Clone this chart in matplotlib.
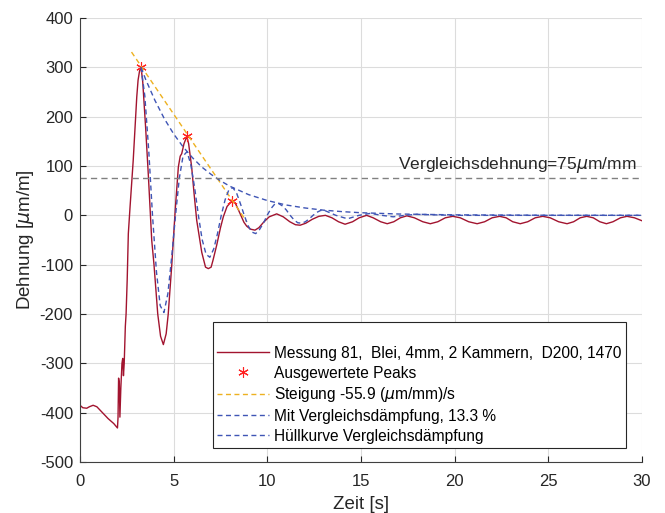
import numpy as np
import matplotlib
matplotlib.use('Agg')
import matplotlib.pyplot as plt

plt.rcParams['font.family'] = ['Liberation Sans', 'DejaVu Sans']
plt.rcParams['axes.unicode_minus'] = False

# Messung (Zeit in s, Dehnung in um/m)
t_mess = [0.0, 0.15, 0.36, 0.5, 0.7, 0.9, 1.2, 1.5, 1.8, 2.0, 2.03, 2.06, 2.1, 2.13,
          2.18, 2.24, 2.28, 2.32, 2.36, 2.42, 2.46, 2.52, 2.58, 2.67, 2.84, 3.03, 3.1,
          3.18, 3.26, 3.35, 3.5, 3.65, 3.83, 3.95, 4.15, 4.3, 4.45, 4.6, 4.71, 4.9,
          4.98, 5.1, 5.25, 5.35, 5.43, 5.55, 5.7, 5.8, 5.96, 6.1, 6.23, 6.5, 6.7,
          6.85, 7.0, 7.1, 7.3, 7.5, 7.65, 7.85, 8.13, 8.3, 8.54, 8.75, 8.9, 9.1,
          9.34, 9.55, 9.8, 10.1, 10.5, 10.85, 11.2, 11.5, 11.75, 12.05, 12.4, 12.75,
          13.1, 13.45, 13.8, 14.15, 14.55, 14.9, 15.3, 15.65, 16.05, 16.4, 16.75,
          17.1, 17.45, 17.85, 18.3, 18.7, 19.1, 19.5, 19.9, 20.3, 20.75, 21.2, 21.6,
          22.0, 22.4, 22.75, 23.1, 23.5, 23.9, 24.3, 24.7, 25.1, 25.55, 26.0, 26.35,
          26.7, 27.05, 27.4, 27.75, 28.1, 28.45, 28.85, 29.2, 29.6, 30.0]
y_mess = [-385, -390, -391, -388, -385, -388, -400, -412, -422, -431, -410, -330, -340, -409,
          -350, -300, -290, -325, -300, -225, -200, -130, -37, 16, 111, 240, 274,
          293, 300, 270, 180, 80, -51, -100, -200, -245, -262, -240, -200, -100,
          -51, 20, 98, 120, 125, 145, 160, 145, 98, 40, -10, -75, -105,
          -108, -105, -91, -60, -25, -3, 18, 30, 24, 4, -14, -22, -28,
          -30, -25, -14, -3, 3, -3, -13, -19, -20, -16, -8, -2,
          0, -5, -13, -18, -13, -5, 0, -5, -13, -17, -13,
          -5, -1, -5, -13, -17, -13, -5, -2, -5, -13, -17, -13,
          -5, -2, -5, -13, -17, -13, -5, -2, -5, -13, -17, -13,
          -5, -2, -5, -13, -17, -13, -5, -2, -5, -11]

# ausgewertete Peaks
t_peaks = [3.26, 5.70, 8.13]
y_peaks = [300, 160, 30]

# Steigung
t_steig = [2.75, 8.90]
y_steig = [331, -13]

# Mit Vergleichsdaempfung
t_daempf = [3.26, 3.46, 3.67, 3.87, 4.08, 4.28, 4.48, 4.69, 4.89, 5.10, 5.30, 5.50,
            5.71, 5.91, 6.12, 6.32, 6.52, 6.73, 6.93, 7.14, 7.34, 7.54, 7.75, 7.95,
            8.16, 8.36, 8.56, 8.77, 8.97, 9.18, 9.38, 9.58, 9.79, 9.99, 10.20, 10.40,
            10.60, 10.81, 11.01, 11.22, 11.42, 11.62, 11.83, 12.03, 12.24, 12.44, 12.64,
            12.85, 13.05, 13.66, 14.28, 14.89, 15.50, 16.11, 16.72, 17.34, 17.95, 20.0, 30.0]
y_daempf = [300, 242, 131, 0, -114, -183, -197, -159, -86, 0, 75, 120,
            129, 104, 56, 0, -49, -79, -85, -68, -37, 0, 32, 52,
            56, 45, 24, 0, -21, -34, -37, -29, -16, 0, 14, 23,
            24, 19, 11, 0, -9, -15, -16, -13, -7, 0, 6,
            10, 10, 0, -7, 0, 4, 0, -3, 0, 2, 0, 0]

# Huellkurve
t_huell = [3.26, 3.5, 4.0, 4.5, 5.0, 5.5, 6.0, 6.5, 7.0, 7.5, 8.0, 9.0, 10.0, 11.0,
           12.0, 13.0, 14.0, 15.0, 17.0, 20.0, 25.0, 30.0]
y_huell = [300, 276, 233, 196, 165, 139, 117, 98, 83, 70, 59, 42, 30, 21,
           15, 10.5, 7.5, 5.3, 2.7, 1, 0.2, 0]

vergleich = 75

fig = plt.figure(figsize=(6.65, 5.13), dpi=100)
ax = fig.add_axes([0.1203, 0.0994, 0.8451, 0.8655])

dash = (3.6, 2.5)
ax.plot(t_mess, y_mess, color='#A2142F', lw=1.0,
        label='Messung 81,  Blei, 4mm, 2 Kammern,  D200, 1470')
ax.plot(t_peaks, y_peaks, ls='none', marker=(6, 2, 0), ms=7.5, mew=0.8,
        color='#FF2020', label='Ausgewertete Peaks')
ax.plot(t_steig, y_steig, color='#EDB120', lw=1.0, dashes=dash,
        label='Steigung -55.9 ($\\mu$m/mm)/s')
ax.plot(t_daempf, y_daempf, color='#3F55B5', lw=1.0, dashes=dash,
        label='Mit Vergleichsdämpfung, 13.3 %')
ax.plot(t_huell, y_huell, color='#3F55B5', lw=1.0, dashes=dash,
        label='Hüllkurve Vergleichsdämpfung')
ax.axhline(vergleich, color='#808080', lw=1.0, dashes=(4.5, 3))
ax.text(29.7, vergleich + 6, 'Vergleichsdehnung=75$\\mu$m/mm', ha='right', va='bottom',
        fontsize=12.5, color='#262626')

ax.set_xlim(0, 30)
ax.set_ylim(-500, 400)
ax.set_xticks(np.arange(0, 31, 5))
ax.set_yticks(np.arange(-500, 401, 100))
ax.grid(True, color='#DCDCDC', lw=0.8)
ax.set_axisbelow(True)
for s in ['top', 'right']:
    ax.spines[s].set_visible(False)
for s in ['left', 'bottom']:
    ax.spines[s].set_color('#404040')
    ax.spines[s].set_linewidth(0.8)
ax.tick_params(direction='in', length=4, labelsize=12, colors='#262626')
ax.tick_params(axis='x', pad=8.5)
ax.tick_params(axis='y', pad=5)

ax.set_xlabel('Zeit [s]', fontsize=13.5, color='#262626', labelpad=5)
ax.set_ylabel('Dehnung [$\\mu$m/m]', fontsize=13.5, color='#262626', labelpad=3)

leg = ax.legend(loc='lower left', bbox_to_anchor=(0.236, 0.031), fontsize=11.2,
                title=' ', title_fontsize=11.2, handlelength=3.3, handletextpad=0.35,
                labelspacing=0.3, borderpad=0.3, frameon=True, fancybox=False,
                borderaxespad=0)
leg.get_frame().set_edgecolor('#262626')
leg.get_frame().set_linewidth(0.8)
leg.get_frame().set_alpha(1)

plt.savefig('out.png', dpi=100)
